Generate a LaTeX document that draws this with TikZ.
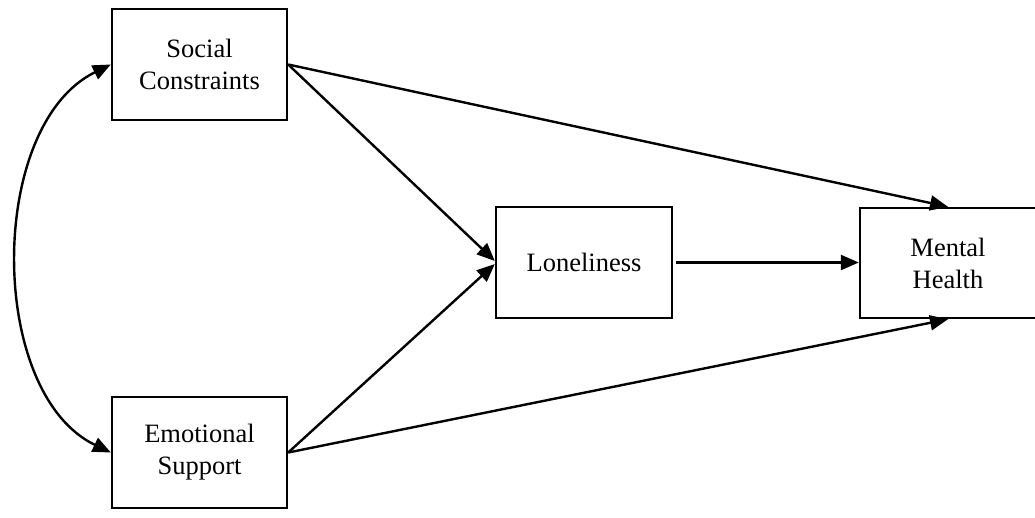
\documentclass[tikz,border=0pt]{standalone}
\usepackage{fontspec}
\setmainfont{Liberation Serif}
\usetikzlibrary{arrows.meta}
\begin{document}
\begin{tikzpicture}[x=1pt,y=-1pt,
  box/.style={draw, line width=2.4pt, minimum width=175pt, minimum height=111pt, align=center, inner sep=0pt,
    font=\fontsize{26.5}{32}\selectfont},
  tip/.style={Triangle[length=18pt,width=15pt]},
  conn/.style={line width=2.4pt, -{Triangle[length=18pt,width=15pt]}}]
\useasboundingbox (0,0) rectangle (1035,517);
\node[box] (sc) at (199.5,64.5) {Social\\Constraints};
\node[box] (es) at (199.5,452.5) {Emotional\\Support};
\node[box, minimum width=176pt] (lon) at (584,262.5) {Loneliness};
\node[box, minimum width=176pt, minimum height=110pt] (mh) at (948,263) {Mental\\Health};
\draw[conn] (sc.east) -- ([yshift=1.5pt]lon.west);
\draw[conn] (es.east) -- ([yshift=-1.5pt]lon.west);
\draw[conn] (sc.east) -- (mh.north);
\draw[conn] (es.east) -- (mh.south);
\draw[conn, shorten <=3pt] (lon.east) -- (lon.east -| mh.west);
\draw[line width=2.4pt, {Triangle[length=18pt,width=15pt]}-{Triangle[length=18pt,width=15pt]}]
  (sc.west) .. controls (-13,125) and (-13,393) .. (es.west);
\end{tikzpicture}
\end{document}
